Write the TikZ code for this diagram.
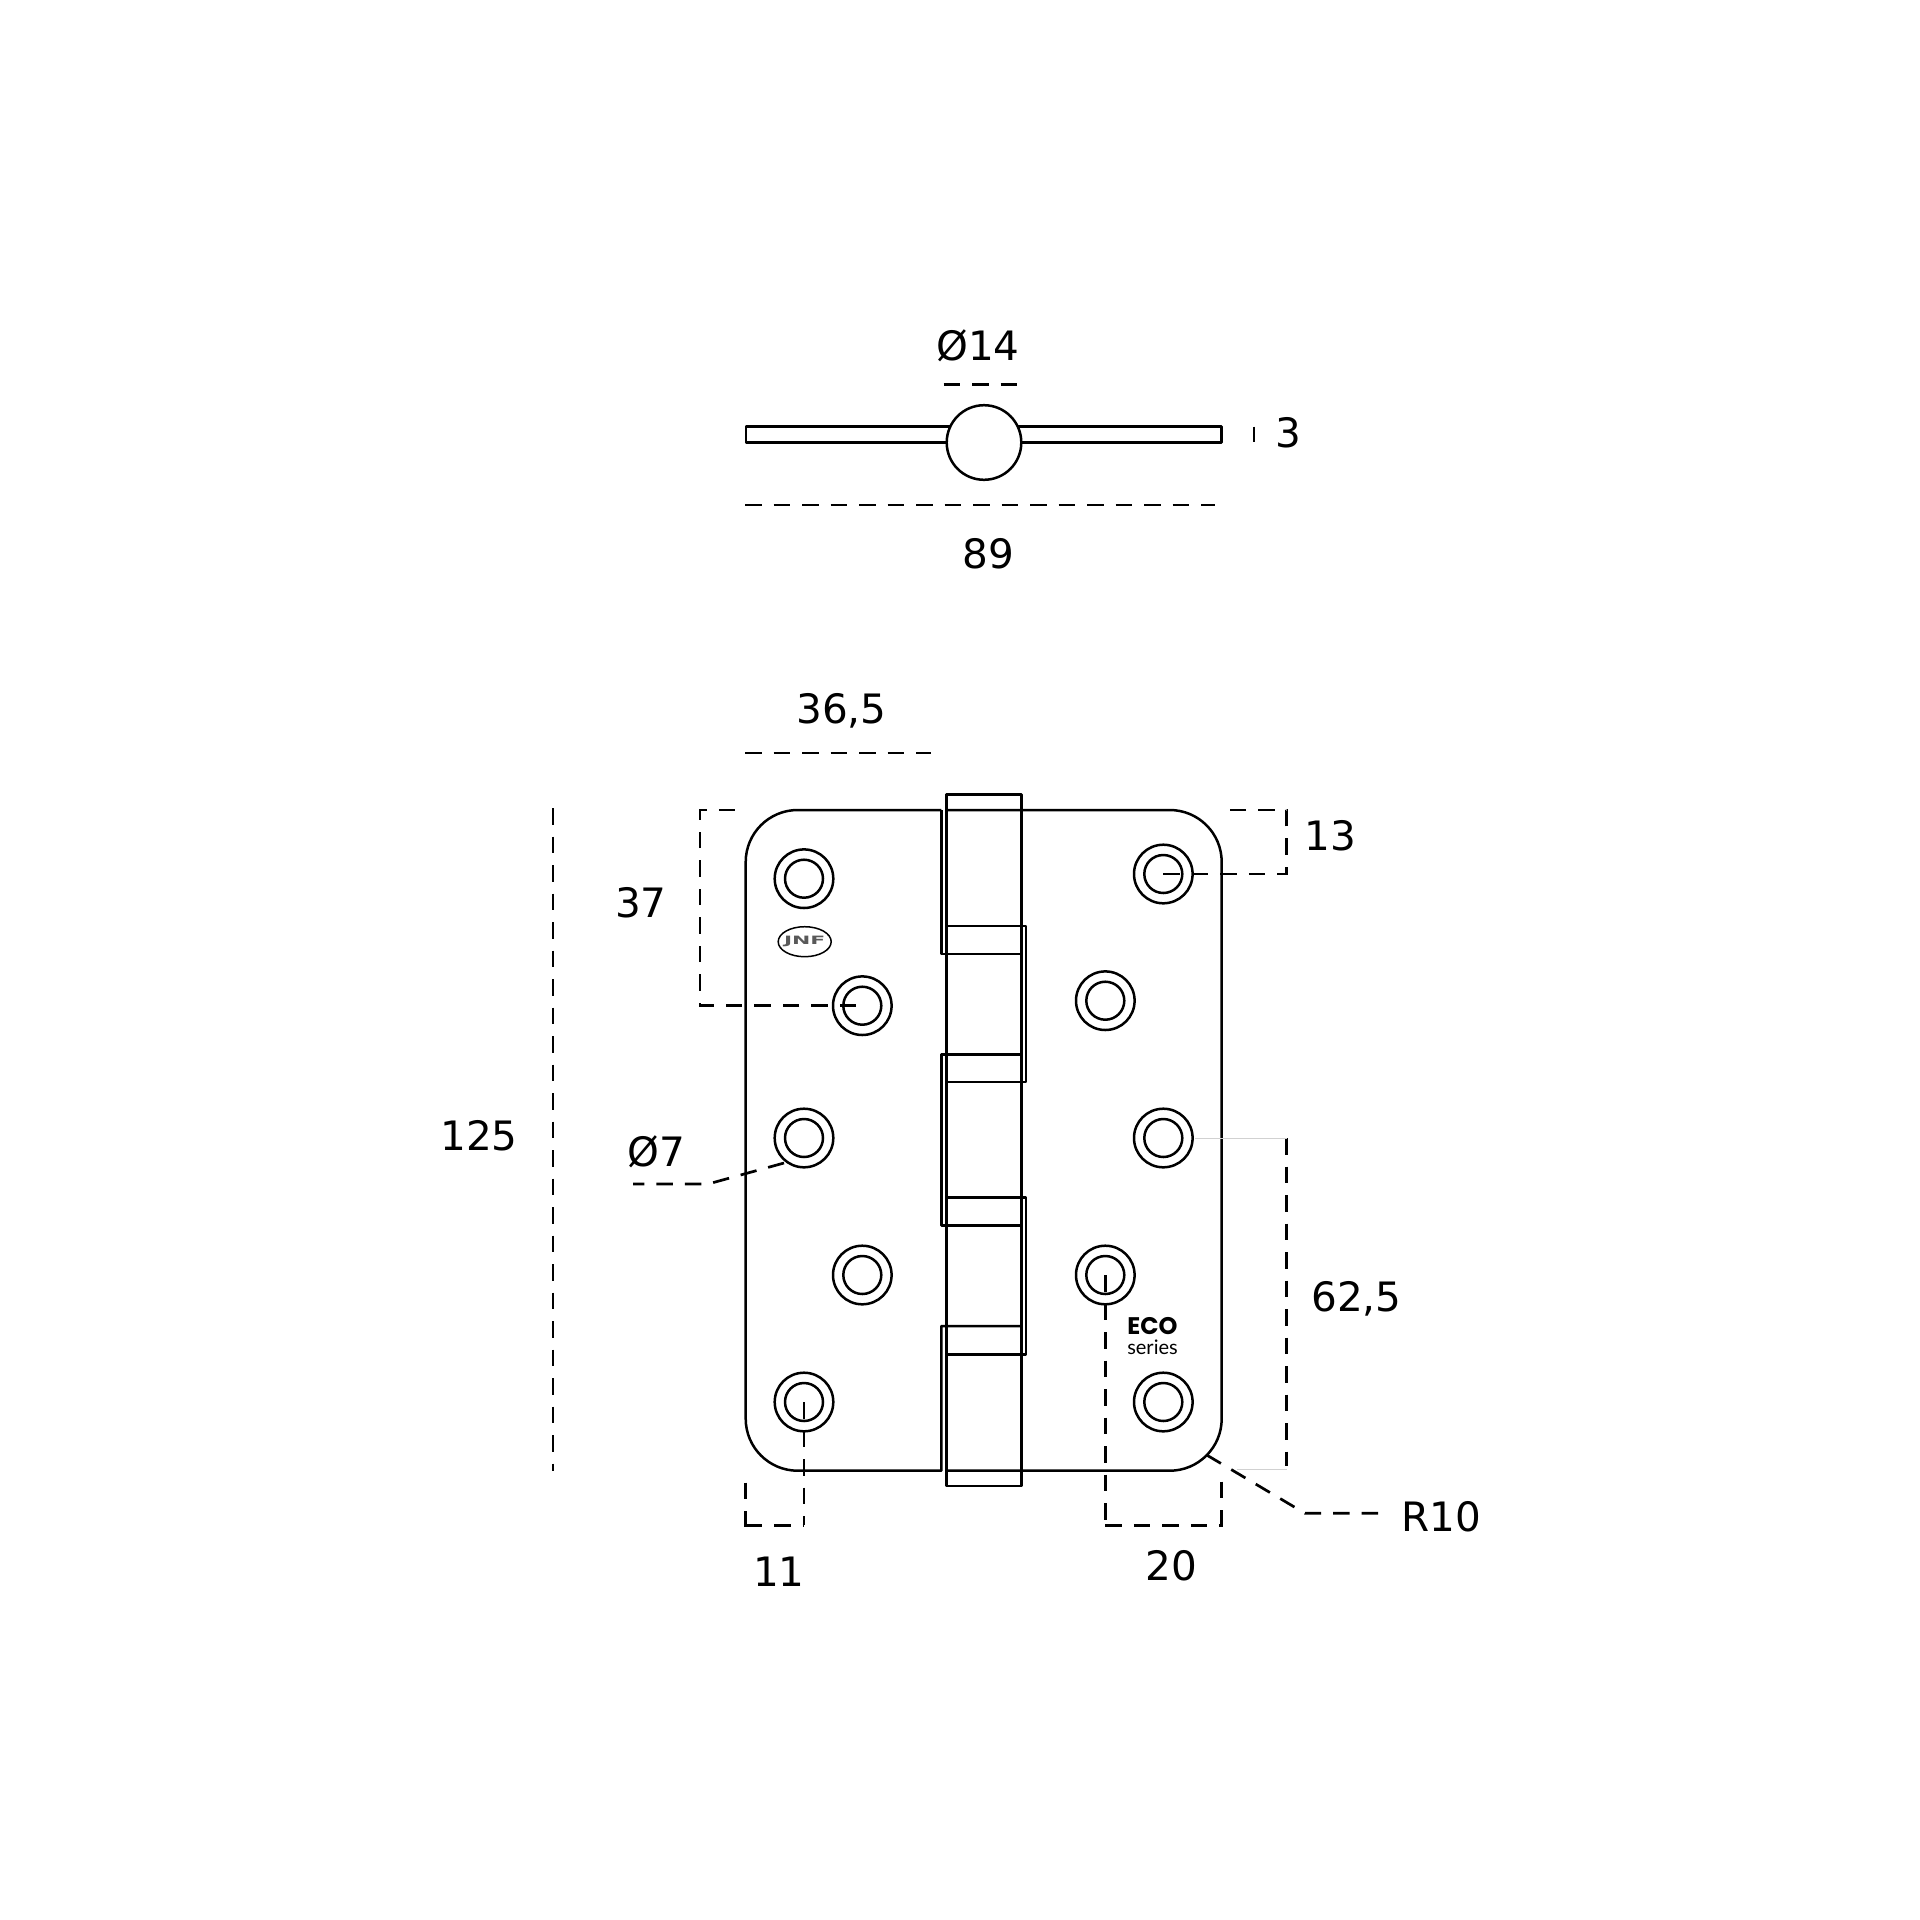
\documentclass[tikz,border=0pt]{standalone}
\usepackage{fontspec}
\usetikzlibrary{shapes.geometric}
\setmainfont{DejaVu Sans}
\newfontfamily\ecofont{Poppins}
\newfontfamily\seriesfont{Lato}
\tikzset{
  hinge/.style={line width=2.5pt,line join=round},
  dimline/.style={line width=2.7pt,line join=miter,dash pattern=on 16.5pt off 12pt},
  hairline/.style={line width=.6pt,black!18},
  dimlabel/.style={anchor=base,inner sep=0pt,font=\fontsize{40.5}{40.5}\selectfont},
}
\begin{document}
\begin{tikzpicture}[x=1pt,y=-1pt]
\useasboundingbox (0,0) rectangle (1920,1920);

\draw [hinge] (746,426.5) rectangle (1221.7,442.5);
\draw [hinge,fill=white] (984,442.5) circle [radius=37.3];

\draw [hinge] (941.3,810) -- (797.7,810) arc [start angle=-90, end angle=-180, radius=52]
  -- (745.7,1418.7) arc [start angle=180, end angle=90, radius=52] -- (941.3,1470.7) -- (941.3,1326) -- (1021.3,1326);
\draw [hinge] (946.7,810) -- (1169.7,810) arc [start angle=-90, end angle=0, radius=52]
  -- (1221.7,1418.7) arc [start angle=0, end angle=90, radius=52] -- (946.7,1470.7);
\draw [hinge] (946.7,794.3) -- (1021.3,794.3) -- (1021.3,1486) -- (946.7,1486) -- cycle;
\draw [hinge] (941.3,810) -- (941.3,954) -- (1021.3,954);
\draw [hinge] (946.7,926) -- (1026,926) -- (1026,1082) -- (946.7,1082);
\draw [hinge] (1021.3,1054.3) -- (941.3,1054.3) -- (941.3,1225.7) -- (1021.3,1225.7);
\draw [hinge] (946.7,1197.6) -- (1026,1197.6) -- (1026,1354.3) -- (946.7,1354.3);

\foreach \name/\x/\y in {holeA/804/878.7,holeB/862.3/1005.7,holeC/804/1138,holeD/862.3/1275,holeE/804/1402,
  holeF/1163.3/874,holeG/1105.3/1000.7,holeH/1163.3/1138,holeI/1105.3/1275,holeJ/1163.3/1402} {
  \coordinate (\name) at (\x,\y);
  \draw [hinge] (\name) circle [radius=29.3];
  \draw [hinge] (\name) circle [radius=19];
}

\draw [dimline] (943.5,384.3) -- (1017,384.3);
\draw [dimline] (1254,426.7) -- (1254,442);
\draw [dimline] (745,505) -- (1215,505);
\draw [dimline] (745,753) -- (931,753);
\draw [dimline] (553,808) -- (553,1470.6);
\draw [dimline] (856,1005.7) -- (700,1005.7) -- (700,810) -- (735,810);
\draw [dimline] (holeF) -- (1286.7,874) -- (1286.7,810) -- (1229,810);
\draw [dimline] (holeE) -- (804,1525.3);
\draw [dimline] (745.7,1525.3) -- (804,1525.3);
\draw [dimline] (745.7,1482.7) -- (745.7,1526.6);
\draw [dimline] (holeI) -- (1105.3,1525.7);
\draw [dimline] (1105.3,1525.7) -- (1221.7,1525.7);
\draw [dimline] (1221.7,1481.7) -- (1221.7,1527);
\draw [dimline] (1286.7,1138) -- (1286.7,1466);
\draw [dimline] (1206.7,1455) -- (1305,1513.3) -- (1378.3,1513.3);
\draw [dimline] (784,1163) -- (708,1184) -- (633,1184);
\draw [hairline] (1195,1138) -- (1286.7,1138);
\draw [hairline] (1236.7,1469.3) -- (1286.7,1469.3);

\node [dimlabel] (dia14) at (978,360) {Ø14};
\node [dimlabel] (wid89) at (988.5,568) {89};
\node [dimlabel] (thk3) at (1288,447) {3};
\node [dimlabel] (leaf365) at (841.5,723) {36,5};
\node [dimlabel] (off37) at (641,917) {37};
\node [dimlabel] (off13) at (1330,850) {13};
\node [dimlabel] (hgt125) at (479,1150) {125};
\node [dimlabel] (dia7) at (656.5,1166) {Ø7};
\node [dimlabel] (half625) at (1356.5,1311) {62,5};
\node [dimlabel] (rad10) at (1441,1531) {R10};
\node [dimlabel] (off20) at (1171.7,1580.5) {20};
\node [dimlabel] (off11) at (779,1586) {11};

\node [draw,ellipse,line width=1.5pt,minimum width=53pt,minimum height=30pt,inner sep=0pt] (brandoval) at (804.7,941.7) {};
\node [inner sep=0pt,xscale=1.9,font=\fontsize{11.5}{11.5}\bfseries\selectfont,text=black!65] (brand) at (brandoval) {JNF};
\node [inner sep=0pt,align=center,font=\seriesfont\fontsize{20}{20}\selectfont] (ecolabel) at (1152.5,1336.5)
  {{\ecofont\bfseries\fontsize{24}{20}\selectfont ECO}\\series};
\end{tikzpicture}
\end{document}
